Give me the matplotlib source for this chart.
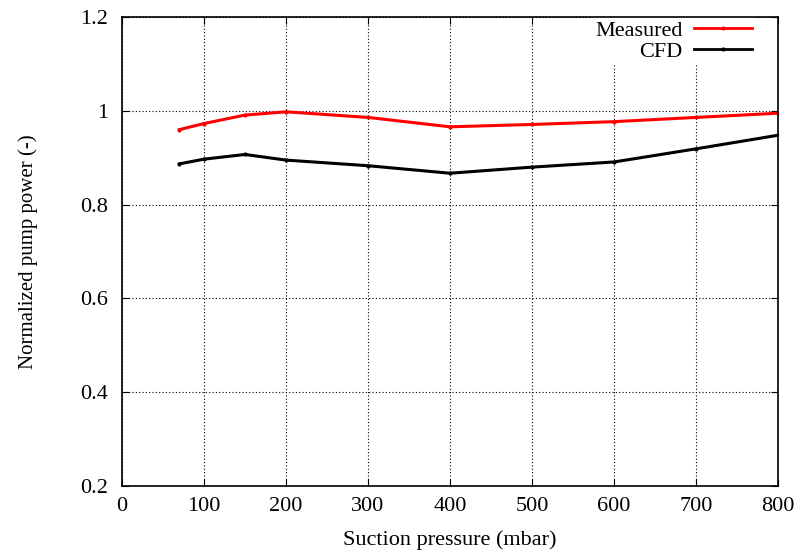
import numpy as np
import matplotlib
matplotlib.use("Agg")
import matplotlib.pyplot as plt

# Suction pressure (mbar)
pressure = [70, 100, 150, 200, 300, 400, 500, 600, 700, 800]
# Normalized pump power
measured = [0.960, 0.973, 0.991, 0.998, 0.986, 0.966, 0.971, 0.977, 0.986, 0.995]
cfd = [0.887, 0.897, 0.907, 0.895, 0.883, 0.867, 0.880, 0.891, 0.919, 0.948]

plt.rcParams['font.family'] = ['Liberation Serif', 'DejaVu Serif']

fig = plt.figure(figsize=(8, 5.51), dpi=100)
ax = fig.add_axes([0.1525, 0.118, 0.82, 0.851])

ax.plot(pressure, measured, color='red', lw=2.2, marker='o', ms=2, label='Measured')
ax.plot(pressure, cfd, color='black', lw=2.2, marker='o', ms=2, label='CFD')

ax.set_xlim(0, 800)
ax.set_ylim(0.2, 1.2)
ax.set_xticks(np.arange(0, 801, 100))
ax.set_yticks([0.2, 0.4, 0.6, 0.8, 1.0, 1.2])
ax.set_yticklabels(['0.2', '0.4', '0.6', '0.8', '1', '1.2'])
ax.grid(True, color='black', linestyle=(0, (1, 2)), linewidth=0.8)
ax.tick_params(direction='in', top=True, right=True, labelsize=16, length=5)
ax.tick_params(axis='y', pad=10)
ax.tick_params(axis='x', pad=8)
for s in ax.spines.values():
    s.set_linewidth(1.2)
    s.set_zorder(10)

ax.set_xlabel('Suction pressure (mbar)', fontsize=16, va='center')
ax.set_ylabel('Normalized pump power (-)', fontsize=15, va='center')
ax.xaxis.set_label_coords(0.5, -0.115)
ax.yaxis.set_label_coords(-0.143, 0.5)

leg = ax.legend(loc='upper right', bbox_to_anchor=(0.965, 1.0), markerfirst=False,
                fontsize=16, frameon=True, fancybox=False, borderaxespad=0,
                handlelength=2.6, handletextpad=0.5, labelspacing=0.0, borderpad=0.15)
leg.get_frame().set_edgecolor('none')
leg.get_frame().set_alpha(1)
for line in leg.get_lines():
    line.set_linewidth(2)
for t in leg.get_texts():
    t.set_ha('right')

fig.savefig('out.png', dpi=100)
